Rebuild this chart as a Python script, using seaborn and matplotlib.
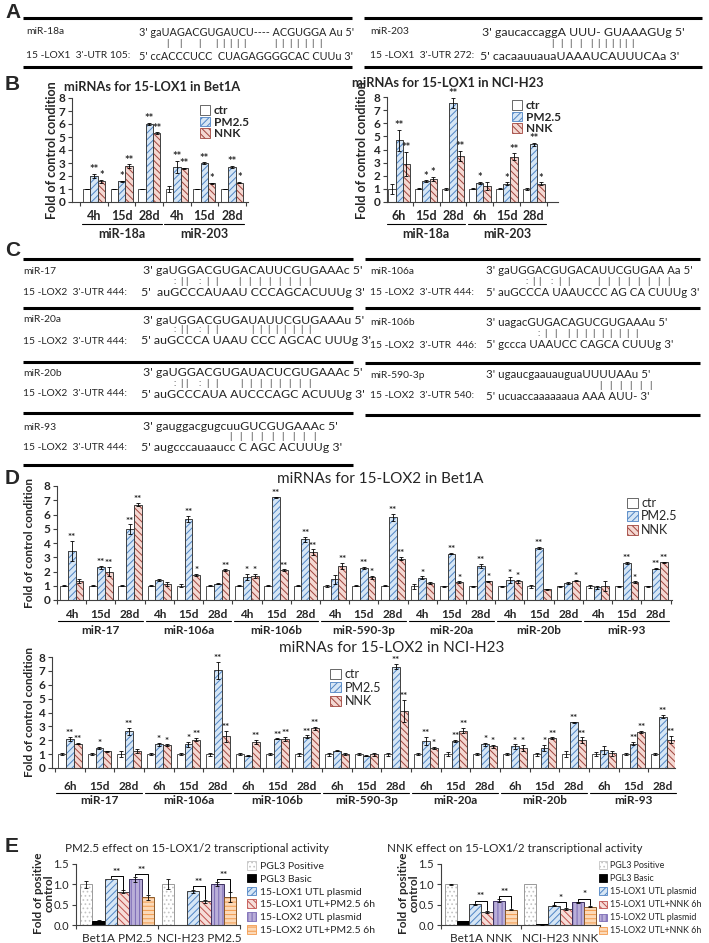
import numpy as np
import pandas as pd
import matplotlib
matplotlib.use("Agg")
import matplotlib.pyplot as plt
import seaborn as sns
from matplotlib.patches import Patch, Rectangle
from matplotlib.lines import Line2D
from matplotlib.transforms import blended_transform_factory

# ======================= DATA =======================
conds = ["ctr", "PM2.5", "NNK"]

# ---- Panel A (sequence alignments) ----
a_left = ["miR-18a", "3' gaUAGACGUGAUCU---- ACGUGGA Au 5'",
          "15 -LOX1  3'-UTR 105:", "5' ccACCCUCC  CUAGAGGGGCAC CUUu 3'"]
a_right = ["miR-203", "3' gaucaccaggA UUU- GUAAAGUg 5'",
           "15 -LOX1  3'-UTR 272:", "5' cacaauuauaUAAAUCAUUUCAa 3'"]

# ---- Panel B ----
b_mirs = ["miR-18a", "miR-203"]
b_bet_times = ["4h", "15d", "28d"]
b_h23_times = ["6h", "15d", "28d"]
b_bet_ctr = [1.0, 1.0, 1.0, 1.0, 1.0, 1.0]
b_bet_ctr_err = [0.03, 0.03, 0.03, 0.25, 0.03, 0.03]
b_bet_pm = [2.0, 1.6, 6.0, 2.7, 3.0, 2.7]
b_bet_pm_err = [0.15, 0.05, 0.1, 0.45, 0.05, 0.1]
b_bet_nnk = [1.6, 2.75, 5.3, 2.6, 1.45, 1.5]
b_bet_nnk_err = [0.1, 0.15, 0.05, 0.05, 0.05, 0.05]
b_bet_pm_sig = ["**", "*", "**", "**", "**", "**"]
b_bet_nnk_sig = ["*", "**", "**", "**", "*", "*"]

b_h23_ctr = [1.0, 1.0, 1.0, 1.0, 1.0, 1.0]
b_h23_ctr_err = [0.4, 0.03, 0.05, 0.03, 0.03, 0.05]
b_h23_pm = [4.7, 1.6, 7.55, 1.45, 1.4, 4.4]
b_h23_pm_err = [0.8, 0.05, 0.4, 0.1, 0.1, 0.1]
b_h23_nnk = [2.9, 1.75, 3.5, 1.25, 3.45, 1.4]
b_h23_nnk_err = [0.9, 0.15, 0.4, 0.3, 0.25, 0.1]
b_h23_pm_sig = ["**", "*", "**", "*", "*", "**"]
b_h23_nnk_sig = ["**", "*", "**", "", "**", "*"]

# ---- Panel C (sequence alignments) ----
c_left = [
    ["miR-17", "3' gaUGGACGUGACAUUCGUGAAAc 5'", "15 -LOX2  3'-UTR 444:", "5'  auGCCCAUAAU CCCAGCACUUUg 3'"],
    ["miR-20a", "3' gaUGGACGUGAUAUUCGUGAAAu 5'", "15 -LOX2  3'-UTR 444:", "5' auGCCCA UAAU CCC AGCAC UUUg 3'"],
    ["miR-20b", "3' gaUGGACGUGAUACUCGUGAAAc 5'", "15 -LOX2  3'-UTR 444:", "5' auGCCCAUA AUCCCAGC ACUUUg 3'"],
    ["miR-93", "3' gauggacgugcuuGUCGUGAAAc 5'", "15 -LOX2  3'-UTR 444:", "5' augcccauaaucc C AGC ACUUUg 3'"],
]
c_right = [
    ["miR-106a", "3' gaUGGACGUGACAUUCGUGAA Aa 5'", "15 -LOX2  3'-UTR 444:", "5' auGCCCA UAAUCCC AG CA CUUUg 3'"],
    ["miR-106b", "3' uagacGUGACAGUCGUGAAAu 5'", "15 -LOX2  3'-UTR  446:", "5' gccca UAAUCC CAGCA CUUUg 3'"],
    ["miR-590-3p", "3' ugaucgaauauguaUUUUAAu 5'", "15 -LOX2  3'-UTR 540:", "5' ucuaccaaaaaaua AAA AUU- 3'"],
]

# ---- Panel D ----
d_mirs = ["miR-17", "miR-106a", "miR-106b", "miR-590-3p", "miR-20a", "miR-20b", "miR-93"]
d_bet_times = ["4h", "15d", "28d"]
d_h23_times = ["6h", "15d", "28d"]
d_bet_ctr = [1.0, 1.0, 1.0, 1.0, 1.0, 1.0, 1.0, 1.0, 1.0, 1.0, 1.0, 1.0,
             0.95, 0.95, 0.95, 0.95, 0.95, 0.95, 0.95, 0.95, 0.95]
d_bet_ctr_err = [0.05, 0.05, 0.05, 0.05, 0.12, 0.05, 0.05, 0.05, 0.05, 0.08, 0.05, 0.05,
                 0.15, 0.05, 0.05, 0.05, 0.08, 0.05, 0.1, 0.05, 0.05]
d_bet_pm = [3.45, 2.3, 4.95, 1.4, 5.7, 1.15, 1.6, 7.2, 4.25, 1.45, 2.25, 5.8,
            1.55, 3.25, 2.4, 1.4, 3.65, 1.2, 0.9, 2.6, 2.2]
d_bet_pm_err = [0.7, 0.1, 0.35, 0.05, 0.2, 0.05, 0.2, 0.05, 0.2, 0.3, 0.05, 0.25,
                0.1, 0.05, 0.15, 0.2, 0.1, 0.05, 0.1, 0.05, 0.05]
d_bet_nnk = [1.35, 2.0, 6.7, 1.1, 1.75, 2.1, 1.7, 2.1, 3.35, 2.4, 1.6, 2.9,
             1.2, 1.25, 1.3, 1.3, 0.75, 1.35, 0.95, 1.25, 2.65]
d_bet_nnk_err = [0.15, 0.3, 0.1, 0.15, 0.1, 0.05, 0.15, 0.05, 0.2, 0.2, 0.1, 0.1,
                 0.05, 0.05, 0.05, 0.1, 0.02, 0.05, 0.35, 0.05, 0.05]
d_bet_pm_sig = ["**", "**", "**", "", "**", "", "*", "**", "**", "", "**", "**",
                "*", "**", "**", "*", "**", "", "", "**", "**"]
d_bet_nnk_sig = ["", "**", "**", "", "*", "**", "*", "**", "**", "**", "*", "**",
                 "", "*", "*", "*", "", "*", "", "*", "**"]

d_h23_ctr = [1.0, 1.0, 1.0, 1.0, 1.0, 1.0, 1.0, 1.0, 1.0, 1.0, 1.0, 1.0,
             1.0, 1.0, 1.0, 1.0, 1.0, 1.0, 1.0, 1.0, 1.0]
d_h23_ctr_err = [0.05, 0.05, 0.2, 0.05, 0.05, 0.1, 0.05, 0.05, 0.1, 0.1, 0.05, 0.1,
                 0.05, 0.15, 0.05, 0.05, 0.1, 0.2, 0.15, 0.05, 0.05]
d_h23_pm = [2.1, 1.45, 2.65, 1.7, 1.7, 7.05, 0.9, 2.1, 2.25, 1.25, 0.9, 7.3,
            1.95, 1.95, 1.7, 1.55, 1.45, 3.3, 1.3, 1.75, 3.7]
d_h23_pm_err = [0.15, 0.05, 0.25, 0.1, 0.2, 0.6, 0.05, 0.03, 0.1, 0.05, 0.05, 0.2,
                0.3, 0.1, 0.1, 0.15, 0.2, 0.05, 0.3, 0.1, 0.1]
d_h23_nnk = [1.75, 1.2, 1.2, 1.65, 2.05, 2.3, 1.85, 2.1, 2.85, 1.0, 1.0, 4.1,
             1.45, 2.7, 1.55, 1.45, 2.15, 2.0, 1.05, 2.6, 2.05]
d_h23_nnk_err = [0.05, 0.03, 0.15, 0.05, 0.1, 0.4, 0.15, 0.15, 0.1, 0.05, 0.1, 0.8,
                 0.05, 0.2, 0.1, 0.2, 0.05, 0.2, 0.15, 0.05, 0.25]
d_h23_pm_sig = ["**", "*", "**", "*", "*", "**", "", "**", "**", "", "", "**",
                "**", "**", "*", "*", "*", "**", "", "**", "**"]
d_h23_nnk_sig = ["**", "", "", "*", "**", "**", "**", "**", "**", "", "", "**",
                 "*", "**", "*", "*", "**", "**", "", "**", "**"]

# ---- Panel E ----
e_pm_hues = ["PGL3 Positive", "PGL3 Basic", "15-LOX1 UTL plasmid",
             "15-LOX1 UTL+PM2.5 6h", "15-LOX2 UTL plasmid", "15-LOX2 UTL+PM2.5 6h"]
e_nnk_hues = ["PGL3 Positive", "PGL3 Basic", "15-LOX1 UTL plasmid",
              "15-LOX1 UTL+NNK 6h", "15-LOX2 UTL plasmid", "15-LOX2 UTL+NNK 6h"]
e_pm_cats = ["Bet1A PM2.5", "NCI-H23 PM2.5"]
e_nnk_cats = ["Bet1A NNK", "NCI-H23 NNK"]
# values per hue: [Bet1A, NCI-H23]
e_pm_vals = [[1.0, 1.0], [0.1, 0.005], [1.13, 0.83], [0.82, 0.58], [1.12, 1.01], [0.68, 0.68]]
e_pm_errs = [[0.09, 0.12], [0.02, 0.0], [0.0, 0.04], [0.03, 0.03], [0.06, 0.04], [0.07, 0.12]]
e_pm_sigs = [["**", "**"], ["**", "**"]]
e_nnk_vals = [[1.0, 1.0], [0.1, 0.02], [0.51, 0.47], [0.32, 0.4], [0.6, 0.56], [0.38, 0.45]]
e_nnk_errs = [[0.02, 0.0], [0.01, 0.01], [0.01, 0.01], [0.02, 0.02], [0.03, 0.01], [0.02, 0.01]]
e_nnk_sigs = [["**", "**"], ["*", "*"]]

# ======================= STYLE =======================
sns.set_theme(style="ticks")
plt.rcParams["font.family"] = ["Lato", "DejaVu Sans"]
plt.rcParams["hatch.linewidth"] = 0.7
plt.rcParams["axes.linewidth"] = 0.8

W, H = 709, 943
fig = plt.figure(figsize=(W / 100, H / 100), dpi=100)
fig.patch.set_facecolor("white")

LAB = 7.4  # alignment label size


def fx(x):
    return x / W


def fy(y):
    return 1 - y / H


def add_ax(x0, y0, x1, y1):
    return fig.add_axes([fx(x0), fy(y1), (x1 - x0) / W, (y1 - y0) / H])


def txt(x, y, s, size=LAB, weight="normal", ha="left", va="center", **kw):
    fig.text(fx(x), fy(y), s, fontsize=size, fontweight=weight, ha=ha, va=va, **kw)


def hline(x0, x1, y, lw=2.2):
    fig.add_artist(Line2D([fx(x0), fx(x1)], [fy(y), fy(y)], lw=lw, color="black",
                          solid_capstyle="butt"))


def pairs(xs, y, chars):
    for x, c in zip(xs, chars):
        txt(x, y, c, size=6.5, ha="center")


def panel_letter(x, y, s):
    txt(x, y, s, size=15, weight="bold", family="Liberation Sans")


ST3 = [
    dict(face="white", hatch=None, hc=None, ec="#505050"),
    dict(face="#d6e6f5", hatch="/////", hc="#4f84c4", ec="#404040"),
    dict(face="#f4d8d2", hatch="\\\\\\\\\\", hc="#a0443d", ec="#404040"),
]
ST6 = [
    dict(face="white", hatch="....", hc="#c4c4c4", ec="#9a9a9a"),
    dict(face="black", hatch=None, hc=None, ec="black"),
    dict(face="#d6e6f5", hatch="/////", hc="#4f84c4", ec="#404040"),
    dict(face="#f6ddd8", hatch="\\\\\\\\\\", hc="#c0504d", ec="#404040"),
    dict(face="#b9aed8", hatch="||||", hc="#7b6bb5", ec="#3d3160"),
    dict(face="#fbd9b8", hatch="----", hc="#f39a4c", ec="#8a5a2a"),
]


def draw_bars(ax, cats, hues, vals, errs, sigs, styles, width, star_size, star_gap):
    df = pd.DataFrame({"cat": np.tile(cats, len(hues)),
                       "hue": np.repeat(hues, len(cats)),
                       "val": np.concatenate([np.asarray(v, float) for v in vals])})
    sns.barplot(data=df, x="cat", y="val", hue="hue", order=cats, hue_order=hues,
                palette=[s["face"] for s in styles], errorbar=None, width=width,
                saturation=1, legend=False, ax=ax, linewidth=0)
    bar_conts = list(ax.containers)
    for k, cont in enumerate(bar_conts):
        st = styles[k]
        for j, bar in enumerate(cont):
            bar.set_facecolor(st["face"])
            if st["hatch"]:
                bar.set_hatch(st["hatch"])
                bar.set_edgecolor(st["hc"])
            else:
                bar.set_edgecolor("none")
            bar.set_linewidth(0)
            ax.add_patch(Rectangle(bar.get_xy(), bar.get_width(), bar.get_height(),
                                   fill=False, edgecolor=st["ec"], lw=0.7, zorder=3))
            cx = bar.get_x() + bar.get_width() / 2
            top = bar.get_height()
            e = errs[k][j]
            if e > 0:
                ax.errorbar(cx, top, yerr=e, fmt="none", ecolor="black", elinewidth=0.6,
                            capsize=1.4, capthick=0.6, zorder=4)
            if sigs is not None and sigs[k] is not None and sigs[k][j]:
                ax.text(cx, top + e + star_gap, sigs[k][j], ha="center", va="baseline",
                        fontsize=star_size, fontweight="bold", zorder=5)
    ax.set_xlabel("")
    ax.set_ylabel("")
    return bar_conts


def style_axes(ax, n, ylim, yticks, ylabels, ysize, yweight):
    sns.despine(ax=ax)
    for sp in ("left", "bottom"):
        ax.spines[sp].set_color("#404040")
        ax.spines[sp].set_linewidth(0.8)
    ax.set_ylim(*ylim)
    ax.set_yticks(yticks)
    ax.set_yticklabels(ylabels, fontsize=ysize, fontweight=yweight)
    ax.tick_params(axis="y", length=3, width=0.8, pad=2, color="#404040")
    ax.set_xticks(range(n))
    ax.set_xticklabels([])
    ax.tick_params(axis="x", which="major", length=0)
    ax.set_xticks(np.arange(-0.5, n, 1), minor=True)
    ax.tick_params(axis="x", which="minor", length=3, width=0.8, direction="out",
                   color="#404040")


def cat_labels(ax, labels, groups, tick_y, line_y, name_y, size, weight, xlim):
    blend = blended_transform_factory(ax.transData, fig.transFigure)
    for i, lab in enumerate(labels):
        ax.text(i, fy(tick_y), lab, transform=blend, ha="center", va="center",
                fontsize=size, fontweight=weight)
    k = len(labels) // len(groups)
    for g, name in enumerate(groups):
        a, b = g * k - 0.45, g * k + k - 0.55
        ax.add_line(Line2D([a, b], [fy(line_y)] * 2, transform=blend, color="black",
                           lw=0.8, clip_on=False))
        ax.text((a + b) / 2, fy(name_y), name, transform=blend, ha="center",
                va="center", fontsize=size, fontweight=weight)
    ax.set_xlim(*xlim)


def legend3(x, y, size, weight, spacing):
    handles = [Patch(facecolor=s["face"], edgecolor=(s["hc"] or s["ec"]), hatch=s["hatch"],
                     lw=0.6) for s in ST3]
    leg = fig.legend(handles=handles, labels=conds, loc="upper left",
                     bbox_to_anchor=(fx(x), fy(y)), frameon=False, fontsize=size,
                     handlelength=0.85, handleheight=0.85, handletextpad=0.3,
                     labelspacing=spacing, borderaxespad=0, borderpad=0)
    for t in leg.get_texts():
        t.set_fontweight(weight)


# ======================= PANEL A =======================
panel_letter(5, 12, "A")
for x0, x1 in [(23, 352), (364, 702)]:
    hline(x0, x1, 18)
    hline(x0, x1, 67)
txt(26, 32, a_left[0]); txt(139, 32, a_left[1], size=7.8)
txt(26, 56, a_left[2]); txt(139, 56, a_left[3], size=7.8)
pairs([167, 180, 199, 216, 223, 230, 237, 244, 275, 282, 290, 297, 305, 312, 320], 44, "|" * 15)
txt(370, 32, a_right[0]); txt(482, 32, a_right[1], size=8.9)
txt(370, 56, a_right[2]); txt(480, 56, a_right[3], size=8.9)
pairs([552, 561, 570, 580, 591, 598, 605, 612, 619, 625, 632], 44, "|" * 11)

# ======================= PANEL B =======================
panel_letter(5, 85, "B")
b_cats = [f"{m} {t}" for m in b_mirs for t in b_bet_times]
axb1 = add_ax(72, 98, 248, 202)
draw_bars(axb1, b_cats, conds, [b_bet_ctr, b_bet_pm, b_bet_nnk],
          [b_bet_ctr_err, b_bet_pm_err, b_bet_nnk_err],
          [None, b_bet_pm_sig, b_bet_nnk_sig], ST3, 0.8, 8, 0.05)
style_axes(axb1, 6, (0, 8), range(9), [str(i) for i in range(9)], 8.5, "bold")
cat_labels(axb1, b_bet_times * 2, b_mirs, 216, 224, 234, 9, "bold", (-0.8, 5.58))
txt(152, 87, "miRNAs for 15-LOX1 in Bet1A", size=9.3, weight="bold", ha="center")
txt(52, 150, "Fold of control condition", size=9, weight="bold", ha="center", rotation=90)
legend3(200, 105, 8.5, "bold", 0.05)

b2_cats = [f"{m} {t}" for m in b_mirs for t in b_h23_times]
axb2 = add_ax(387, 97, 558, 202)
draw_bars(axb2, b2_cats, conds, [b_h23_ctr, b_h23_pm, b_h23_nnk],
          [b_h23_ctr_err, b_h23_pm_err, b_h23_nnk_err],
          [None, b_h23_pm_sig, b_h23_nnk_sig], ST3, 0.8, 8, 0.05)
style_axes(axb2, 6, (0, 8), range(9), [str(i) for i in range(9)], 8.5, "bold")
cat_labels(axb2, b_h23_times * 2, b_mirs, 216, 224, 234, 9, "bold", (-0.45, 5.9))
txt(448, 83, "miRNAs for 15-LOX1 in NCI-H23", size=9.3, weight="bold", ha="center")
txt(362, 150, "Fold of control condition", size=9, weight="bold", ha="center", rotation=90)
legend3(512, 100, 8.5, "bold", 0.05)

# ======================= PANEL C =======================
panel_letter(5, 251, "C")
for y in [259, 308, 362, 413, 465]:
    hline(23, 353, y)
for y in [259, 308, 363, 415]:
    hline(365, 700, y)
c_left_rows = [(271, 282, 293), (320, 330, 341), (373, 383, 394), (427, 437, 448)]
c_right_rows = [(271, 282, 293), (323, 334, 345), (375, 385, 396)]
c_left_pairs = [
    ([175, 181, 186, 200, 207, 216] + [239 + 10 * i for i in range(8)], ":||:||" + "|" * 8),
    ([175, 181, 186, 200, 207, 216] + [252 + 8.2 * i for i in range(8)], ":||:||" + "|" * 8),
    ([175, 181, 186, 200, 207, 216] + [241 + 9.7 * i for i in range(8)], ":||:||" + "|" * 8),
    ([230 + 10.5 * i for i in range(9)], "|" * 9),
]
c_right_pairs = [
    ([527, 533, 539, 552, 559, 568] + [598 + 10 * i for i in range(8)], ":||:||" + "|" * 8),
    ([539, 545, 555] + [568 + 8.5 * i for i in range(9)], ":||" + "|" * 9),
    ([600 + 10 * i for i in range(6)], "|" * 6),
]
for rows, lines, prs in zip(c_left_rows, c_left, c_left_pairs):
    txt(23, rows[0], lines[0]); txt(143, rows[0], lines[1], size=8.9)
    txt(23, rows[2], lines[2]); txt(141, rows[2], lines[3], size=8.9)
    pairs(prs[0], rows[1], prs[1])
for rows, lines, prs in zip(c_right_rows, c_right, c_right_pairs):
    txt(370, rows[0], lines[0]); txt(486, rows[0], lines[1], size=8.3)
    txt(370, rows[2], lines[2]); txt(486, rows[2], lines[3], size=8.3)
    pairs(prs[0], rows[1], prs[1])

# ======================= PANEL D =======================
panel_letter(5, 478, "D")
d_cats = [f"{m} {t}" for m in d_mirs for t in d_bet_times]
axd1 = add_ax(57, 486, 672, 600)
draw_bars(axd1, d_cats, conds, [d_bet_ctr, d_bet_pm, d_bet_nnk],
          [d_bet_ctr_err, d_bet_pm_err, d_bet_nnk_err],
          [None, d_bet_pm_sig, d_bet_nnk_sig], ST3, 0.8, 7, 0.06)
style_axes(axd1, 21, (0, 8), range(9), [str(i) for i in range(9)], 8.5, "bold")
cat_labels(axd1, d_bet_times * 7, d_mirs, 614, 621, 630, 8.5, "bold", (-0.5, 20.55))
txt(380, 479, "miRNAs for 15-LOX2 in Bet1A", size=11, ha="center")
txt(30, 543, "Fold of control condition", size=8.5, weight="bold", ha="center", rotation=90)
legend3(627, 497, 9, "normal", 0.12)

d2_cats = [f"{m} {t}" for m in d_mirs for t in d_h23_times]
axd2 = add_ax(52, 657, 675, 768)
draw_bars(axd2, d2_cats, conds, [d_h23_ctr, d_h23_pm, d_h23_nnk],
          [d_h23_ctr_err, d_h23_pm_err, d_h23_nnk_err],
          [None, d_h23_pm_sig, d_h23_nnk_sig], ST3, 0.8, 7, 0.06)
style_axes(axd2, 21, (0, 8), range(9), [str(i) for i in range(9)], 8.5, "bold")
cat_labels(axd2, d_h23_times * 7, d_mirs, 786, 793, 800, 8.5, "bold", (-0.6, 20.4))
txt(392, 648, "miRNAs for 15-LOX2 in NCI-H23", size=11, ha="center")
txt(30, 712, "Fold of control condition", size=8.5, weight="bold", ha="center", rotation=90)
legend3(330, 668, 9, "normal", 0.12)

# ======================= PANEL E =======================
panel_letter(5, 846, "E")


def e_panel(x0, x1, cats, hues, vals, errs, sigs, title, tx, lx, legx, legsize, legsp):
    ax = add_ax(x0, 864, x1, 925)
    conts = draw_bars(ax, cats, hues, vals, errs, None, ST6, 0.9, 7, 0.03)
    style_axes(ax, 2, (0, 1.5), [0, 0.5, 1.0, 1.5], ["0.0", "0.5", "1.0", "1.5"], 8, "normal")
    blend = blended_transform_factory(ax.transData, fig.transFigure)
    for i, c in enumerate(cats):
        ax.text(i, fy(939), c, transform=blend, ha="center", va="center", fontsize=8.5)
    for j in range(len(cats)):
        for p, (a, b) in enumerate([(2, 3), (4, 5)]):
            ba, bb = conts[a][j], conts[b][j]
            xa = ba.get_x() + ba.get_width() / 2
            xb = bb.get_x() + bb.get_width() / 2
            ta = ba.get_height() + errs[a][j]
            tb = bb.get_height() + errs[b][j]
            yb = max(ta, tb) + 0.08
            ax.plot([xa, xa, xb, xb], [ta + 0.02, yb, yb, tb + 0.02], color="black",
                    lw=0.7, zorder=5)
            ax.text((xa + xb) / 2, yb + 0.03, sigs[j][p], ha="center", va="baseline",
                    fontsize=7, fontweight="bold")
    ax.set_xlim(-0.5, 1.5)
    ax.set_ylim(0, 1.5)
    txt(tx, 849, title, size=8.4, ha="center")
    txt(lx, 893, "Fold of positive\ncontrol", size=8.5, weight="bold", ha="center",
        rotation=90, linespacing=1.0)
    handles = [Patch(facecolor=s["face"], edgecolor=(s["hc"] or s["ec"]), hatch=s["hatch"],
                     lw=0.6) for s in ST6]
    fig.legend(handles=handles, labels=hues, loc="upper left",
               bbox_to_anchor=(fx(legx), fy(861)), frameon=False, fontsize=legsize,
               handlelength=0.9, handleheight=0.9, handletextpad=0.35,
               labelspacing=legsp, borderaxespad=0, borderpad=0)
    return ax


e_panel(76, 240, e_pm_cats, e_pm_hues, e_pm_vals, e_pm_errs, e_pm_sigs,
        "PM2.5 effect on 15-LOX1/2 transcriptional activity", 197, 44, 247, 7.5, 0.28)
e_panel(441, 600, e_nnk_cats, e_nnk_hues, e_nnk_vals, e_nnk_errs, e_nnk_sigs,
        "NNK effect on 15-LOX1/2 transcriptional activity", 515, 409, 599, 6.4, 0.46)

fig.savefig("out.png", dpi=100, facecolor="white")
